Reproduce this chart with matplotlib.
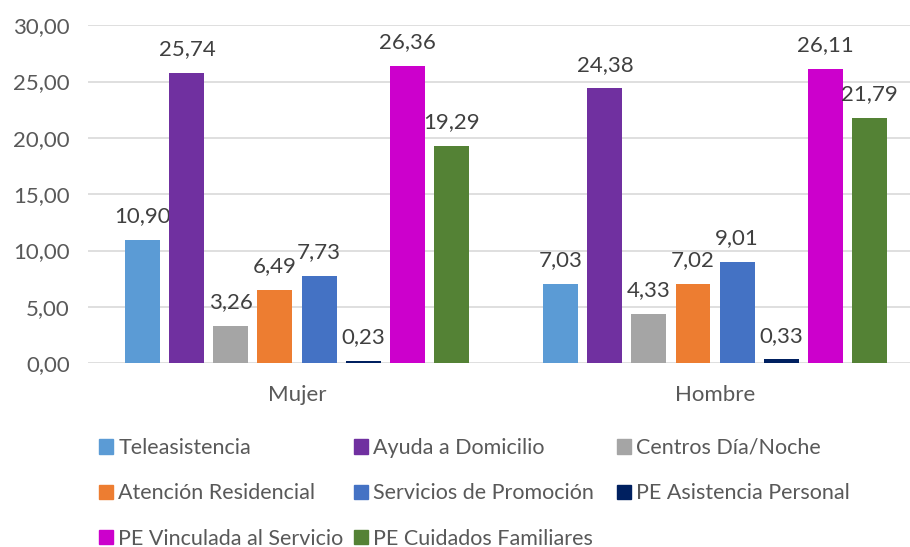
import numpy as np
import matplotlib
matplotlib.use('Agg')
import matplotlib.pyplot as plt
from matplotlib.patches import Patch

plt.rcParams['font.family'] = ['Lato', 'DejaVu Sans']

# datos
grupos = ['Mujer', 'Hombre']
servicios = ['Teleasistencia', 'Ayuda a Domicilio', 'Centros Día/Noche',
             'Atención Residencial', 'Servicios de Promoción', 'PE Asistencia Personal',
             'PE Vinculada al Servicio', 'PE Cuidados Familiares']
mujer = [10.90, 25.74, 3.26, 6.49, 7.73, 0.23, 26.36, 19.29]
hombre = [7.03, 24.38, 4.33, 7.02, 9.01, 0.33, 26.11, 21.79]
colores = ['#5B9BD5', '#7030A0', '#A5A5A5', '#ED7D31', '#4472C4', '#002060', '#CC00CC', '#548235']

valores = np.array([mujer, hombre])
fs = 16

fig = plt.figure(figsize=(9.1, 5.47), dpi=100)
# el area del grafico sigue un poco mas alla del borde derecho
ax = fig.add_axes([0.0967, 0.336, 0.9187, 0.618])

x = np.arange(len(grupos))
paso = 0.1053
ancho = 0.0837
for i, serv in enumerate(servicios):
    pos = x + (i - 3.5) * paso
    barras = ax.bar(pos, valores[:, i], width=ancho, color=colores[i], zorder=3)
    for b, v in zip(barras, valores[:, i]):
        ax.annotate(f"{v:.2f}".replace('.', ','),
                    (b.get_x() + b.get_width() / 2, v),
                    xytext=(0, 10), textcoords='offset points',
                    ha='center', va='bottom', fontsize=fs, color='#404040')

ax.set_xlim(-0.5, 1.5)
ax.set_ylim(0, 30)
ax.set_yticks(np.arange(0, 31, 5))
ax.set_yticklabels([f"{t:.2f}".replace('.', ',') for t in np.arange(0, 31, 5)])
ax.set_xticks(x)
ax.set_xticklabels(grupos)
ax.tick_params(length=0, labelsize=fs, colors='#595959')
ax.tick_params(axis='x', pad=16)
ax.tick_params(axis='y', pad=13)
ax.grid(axis='y', color='#D9D9D9', linewidth=1.2, zorder=0)
for s in ax.spines.values():
    s.set_visible(False)

# leyenda en tres columnas colocadas a mano
handles = [Patch(color=c, label=s) for s, c in zip(servicios, colores)]
columnas = [[0, 3, 6], [1, 4, 7], [2, 5]]
xs = [99, 354, 617]
for col, xp in zip(columnas, xs):
    leg = fig.legend([handles[k] for k in col], [servicios[k] for k in col],
                     ncol=1, loc='upper left', bbox_to_anchor=(xp / 910, 1 - 438 / 547),
                     frameon=False, fontsize=15.5, labelcolor='#595959',
                     handlelength=0.65, handleheight=0.65, handletextpad=0.25,
                     labelspacing=1.18, borderpad=0, borderaxespad=0)

fig.savefig('out.png', dpi=100)
